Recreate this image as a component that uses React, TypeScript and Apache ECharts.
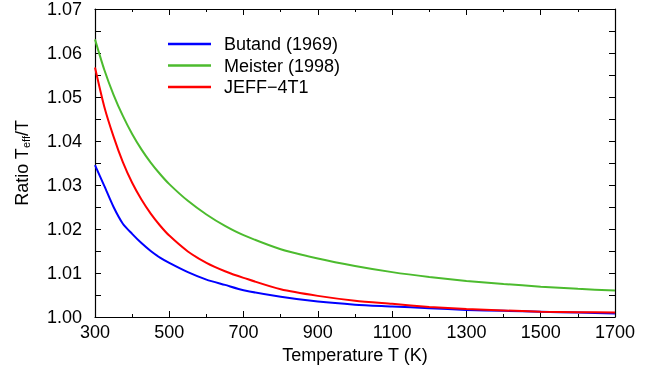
import React, { useEffect, useRef } from "react";
import * as echarts from "echarts";

const temps = [300, 325, 350, 375, 400, 425, 450, 475, 500, 550, 600, 650, 700, 800, 900, 1000, 1100, 1200, 1300, 1400, 1500, 1600, 1700];
const butand = [1.0345, 1.0298, 1.025, 1.0212, 1.0189, 1.0168, 1.015, 1.0135, 1.0123, 1.0102, 1.0085, 1.0073, 1.0061, 1.0046, 1.0035, 1.0028, 1.0024, 1.002, 1.0016, 1.0014, 1.0012, 1.001, 1.0008];
const meister = [1.0631, 1.0562, 1.0505, 1.0457, 1.0416, 1.0381, 1.0351, 1.0325, 1.0302, 1.0264, 1.0233, 1.0207, 1.0186, 1.0154, 1.0133, 1.0116, 1.0102, 1.0091, 1.0082, 1.0075, 1.0069, 1.0064, 1.006];
const jeff = [1.0567, 1.0478, 1.041, 1.0352, 1.0305, 1.0267, 1.0235, 1.0208, 1.0185, 1.0149, 1.0123, 1.0104, 1.0089, 1.0063, 1.0048, 1.0037, 1.003, 1.0023, 1.0018, 1.0015, 1.0012, 1.0011, 1.001];
const seriesNames = ["Butand (1969)", "Meister (1998)", "JEFF\u22124T1"];
const seriesColors = ["#0000ff", "#4cbb2e", "#ff0000"];

const FONT = "Liberation Sans, Arial, Helvetica, sans-serif";

export default function App() {
  const ref = useRef<HTMLDivElement>(null);
  useEffect(() => {
    if (!ref.current) return;
    const chart = echarts.init(ref.current, undefined, { renderer: "svg" });
    const pairs = (ys: number[]) => temps.map((t, i) => [t, ys[i]]);
    const axisLine = { show: true, onZero: false, lineStyle: { color: "#000", width: 1.2 } };
    chart.setOption({
      animation: false,
      textStyle: { fontFamily: FONT, color: "#000" },
      grid: { left: 95, right: 42, top: 8, bottom: 59 },
      legend: {
        orient: "vertical",
        left: 163,
        top: 30,
        icon: "rect",
        itemWidth: 43,
        itemHeight: 2.5,
        itemGap: 3.5,
        textStyle: { fontSize: 18, color: "#000", fontFamily: FONT, padding: [0, 0, 0, 8] },
        data: seriesNames,
      },
      xAxis: [
        {
          type: "value",
          min: 300,
          max: 1700,
          interval: 200,
          position: "bottom",
          name: "Temperature T (K)",
          nameLocation: "middle",
          nameGap: 27,
          nameTextStyle: { fontSize: 18, color: "#000", fontFamily: FONT },
          axisLine,
          axisTick: { show: true, inside: true, length: 6, lineStyle: { color: "#000" } },
          minorTick: { show: true, splitNumber: 2, length: 3, lineStyle: { color: "#000" } },
          axisLabel: { fontSize: 18, color: "#000", margin: 6, fontFamily: FONT, formatter: (v: number) => String(v) },
          splitLine: { show: false },
        },
        {
          type: "value",
          min: 300,
          max: 1700,
          interval: 200,
          position: "top",
          axisLine,
          axisTick: { show: true, inside: true, length: 6, lineStyle: { color: "#000" } },
          minorTick: { show: true, splitNumber: 2, length: 3, lineStyle: { color: "#000" } },
          axisLabel: { show: false },
          splitLine: { show: false },
        },
      ],
      yAxis: [
        {
          type: "value",
          min: 1.0,
          max: 1.07,
          interval: 0.01,
          position: "left",
          name: "{a|Ratio T}{s|eff}{a|/T}",
          nameLocation: "middle",
          nameRotate: 90,
          nameGap: 64,
          nameTextStyle: {
            fontFamily: FONT,
            color: "#000",
            rich: {
              a: { fontSize: 18, fontFamily: FONT, color: "#000", lineHeight: 22, verticalAlign: "bottom" },
              s: { fontSize: 11, fontFamily: FONT, color: "#000", lineHeight: 22, verticalAlign: "bottom", padding: [6, 0, 0, 0] },
            },
          },
          axisLine,
          axisTick: { show: true, inside: true, length: 6, lineStyle: { color: "#000" } },
          minorTick: { show: true, splitNumber: 2, length: 6, lineStyle: { color: "#000" } },
          axisLabel: { fontSize: 18, color: "#000", margin: 13, fontFamily: FONT, formatter: (v: number) => v.toFixed(2) },
          splitLine: { show: false },
        },
        {
          type: "value",
          min: 1.0,
          max: 1.07,
          interval: 0.01,
          position: "right",
          axisLine,
          axisTick: { show: true, inside: true, length: 6, lineStyle: { color: "#000" } },
          minorTick: { show: true, splitNumber: 2, length: 6, lineStyle: { color: "#000" } },
          axisLabel: { show: false },
          splitLine: { show: false },
        },
      ],
      series: [butand, meister, jeff].map((ys, i) => ({
        name: seriesNames[i],
        type: "line",
        data: pairs(ys),
        xAxisIndex: 0,
        yAxisIndex: 0,
        showSymbol: false,
        smooth: 0.25,
        color: seriesColors[i],
        lineStyle: { color: seriesColors[i], width: 2 },
      })),
    });
    return () => chart.dispose();
  }, []);
  return <div ref={ref} style={{ width: 657, height: 376, position: "fixed", left: 0, top: 0 }} />;
}
